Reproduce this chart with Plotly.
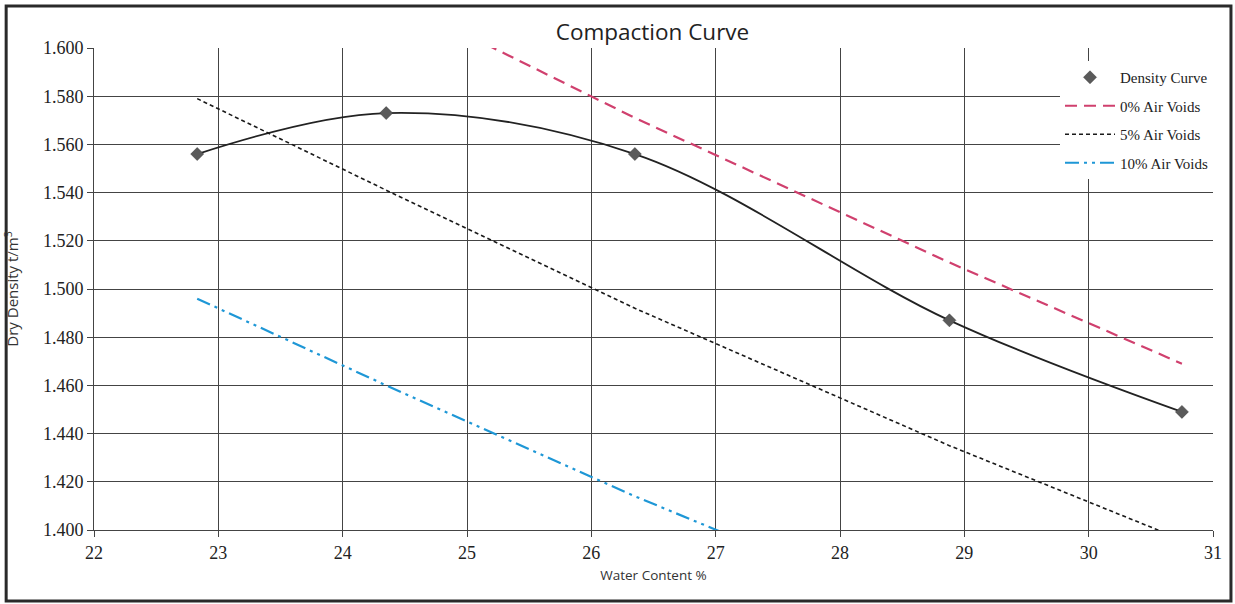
import plotly.graph_objects as go

# Data
water_content = [22.83, 24.35, 26.35, 28.88, 30.75]
dry_density = [1.556, 1.573, 1.556, 1.487, 1.449]

void_w = [22.83, 24.35, 26.35, 28.88, 30.75]
air0 = [1.662, 1.622, 1.571, 1.511, 1.469]
air5 = [1.579, 1.541, 1.492, 1.435, 1.396]
air10 = [1.496, 1.460, 1.414, 1.360, 1.322]

x_ticks = [22, 23, 24, 25, 26, 27, 28, 29, 30, 31]
y_ticks = [1.400, 1.420, 1.440, 1.460, 1.480, 1.500, 1.520, 1.540, 1.560, 1.580, 1.600]

W, H = 1235, 604
ML, MR, MT, MB = 92, 22, 48, 74
PW, PH = W - ML - MR, H - MT - MB

fig = go.Figure()
# smoothed line of the density curve (legend shows marker only)
fig.add_trace(go.Scatter(
    x=water_content, y=dry_density, name="Density Curve", mode="lines",
    line=dict(color="#222222", width=1.8, shape="spline", smoothing=1.0),
    showlegend=False, legendgroup="a", hoverinfo="skip",
))
fig.add_trace(go.Scatter(
    x=water_content, y=dry_density, name="Density Curve", mode="markers",
    marker=dict(symbol="diamond", size=10, color="#5a5a5a", line=dict(color="#333", width=0.5)),
    legendgroup="a",
))
fig.add_trace(go.Scatter(
    x=void_w, y=air0, name="0% Air Voids", mode="lines",
    line=dict(color="#d0406e", width=2.2, dash="12px,7px"), legendgroup="b",
))
fig.add_trace(go.Scatter(
    x=void_w, y=air5, name="5% Air Voids", mode="lines",
    line=dict(color="#1a1a1a", width=1.6, dash="4px,3px"), legendgroup="c",
))
fig.add_trace(go.Scatter(
    x=void_w, y=air10, name="10% Air Voids", mode="lines",
    line=dict(color="#1e97d6", width=2.2, dash="14px,5px,3px,5px,3px,5px"), legendgroup="d",
))

x0 = (4 - ML) / PW
x1 = (1231 - ML) / PW
y0 = (H - MB - 601) / PH
y1 = (H - MB - 6) / PH
fig.add_shape(type="rect", xref="paper", yref="paper", x0=x0, x1=x1, y0=y0, y1=y1,
              line=dict(color="#2a2a2a", width=3), layer="above")

fig.update_layout(
    width=W, height=H,
    margin=dict(l=ML, r=MR, t=MT, b=MB),
    paper_bgcolor="white", plot_bgcolor="white",
    title=dict(text="Compaction Curve", x=0.5 * (ML + W - MR) / W, xanchor="center",
               y=1 - 32 / H, yanchor="middle",
               font=dict(family="Open Sans", size=22.5, color="#222")),
    legend=dict(x=1, xanchor="right", y=(H - MB - 61) / PH, yanchor="top",
                bgcolor="white", borderwidth=0, tracegroupgap=6,
                traceorder="grouped", itemwidth=50,
                font=dict(family="Liberation Serif", size=15, color="#222")),
    showlegend=True,
)
fig.update_xaxes(
    range=[22, 31], tickvals=x_ticks, ticktext=[str(v) for v in x_ticks],
    showgrid=True, gridcolor="#444", gridwidth=1,
    showline=True, linecolor="#444", linewidth=1, mirror=False,
    ticks="outside", ticklen=6, tickcolor="#444",
    tickfont=dict(family="Liberation Serif", size=18, color="#222"),
    title=dict(text="Water Content %", standoff=8,
               font=dict(family="Open Sans", size=13.5, color="#333")),
    zeroline=False,
)
fig.update_yaxes(
    range=[1.400, 1.600], tickvals=y_ticks, ticktext=[f"{v:.3f}" for v in y_ticks],
    showgrid=True, gridcolor="#444", gridwidth=1,
    showline=True, linecolor="#444", linewidth=1,
    ticks="outside", ticklen=6, tickcolor="#444",
    tickfont=dict(family="Liberation Serif", size=18, color="#222"),
    title=dict(text="Dry Density t/m<sup>3</sup>", standoff=20,
               font=dict(family="Open Sans", size=15, color="#333")),
    zeroline=False,
)

fig.write_html("out.html", config={"displayModeBar": False},
               post_script="document.body.style.margin='0px';")
